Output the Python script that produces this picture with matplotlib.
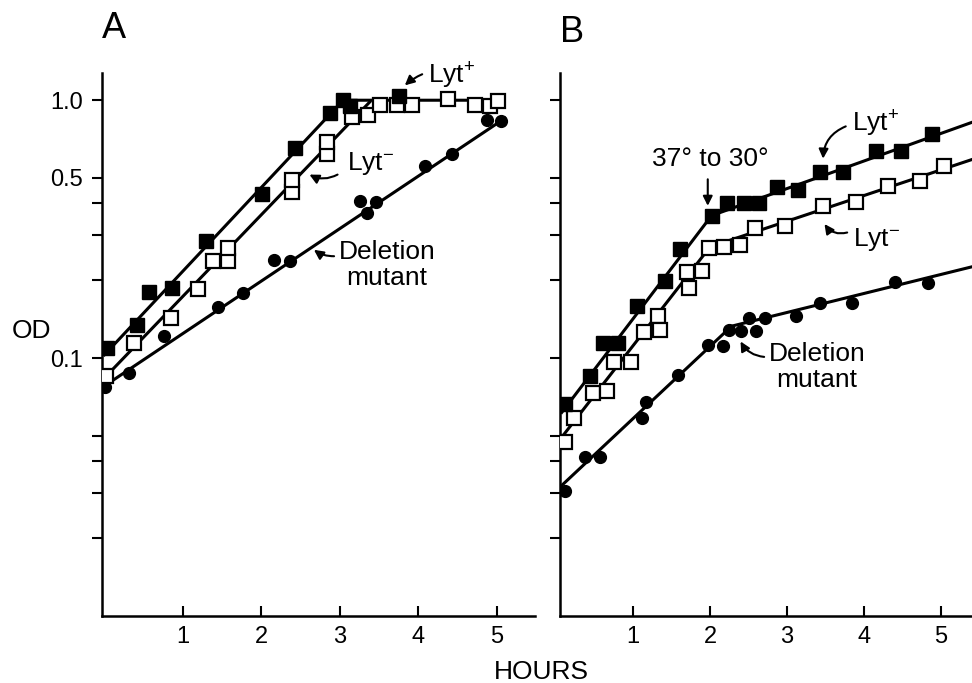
import numpy as np
import matplotlib
matplotlib.use("Agg")
import matplotlib.pyplot as plt

plt.rcParams['font.family'] = ['Liberation Sans', 'DejaVu Sans']
plt.rcParams['mathtext.default'] = 'regular'

# ---- panel A data (hours, OD) ----
a_lytp_x = [0.03, 0.41, 0.57, 0.86, 1.29, 2.01, 2.43, 2.87, 3.04, 3.13, 3.75]
a_lytp_y = [0.109, 0.134, 0.180, 0.187, 0.284, 0.432, 0.652, 0.891, 1.0, 0.948, 1.036]
a_lytm_x = [0.02, 0.38, 0.85, 1.19, 1.38, 1.57, 1.57, 2.39, 2.39, 2.83, 2.83,
            3.15, 3.36, 3.51, 3.73, 3.92, 4.38, 4.72, 4.91, 5.01]
a_lytm_y = [0.085, 0.114, 0.143, 0.185, 0.238, 0.238, 0.267, 0.440, 0.490, 0.618, 0.687,
            0.859, 0.875, 0.956, 0.956, 0.956, 1.01, 0.956, 0.948, 0.99]
a_del_x = [0.01, 0.31, 0.76, 1.45, 1.76, 2.16, 2.36, 3.25, 3.34, 3.46, 4.08, 4.43, 4.87, 5.05]
a_del_y = [0.077, 0.0875, 0.122, 0.158, 0.179, 0.240, 0.237, 0.406, 0.365, 0.402, 0.555,
           0.618, 0.837, 0.829]
# fitted lines (break points)
a_fit_lytp_x = [0.0, 3.04, 5.07]
a_fit_lytp_y = [0.103, 1.0, 1.0]
a_fit_lytm_x = [0.0, 3.38]
a_fit_lytm_y = [0.0838, 0.985]
a_fit_del_x = [0.0, 5.1]
a_fit_del_y = [0.078, 0.851]

# ---- panel B data ----
b_lytp_x = [0.11, 0.44, 0.61, 0.80, 1.05, 1.41, 1.61, 2.02, 2.22, 2.44, 2.64, 2.87,
            3.14, 3.43, 3.73, 4.16, 4.49, 4.89]
b_lytp_y = [0.0662, 0.0851, 0.1144, 0.1144, 0.1594, 0.1993, 0.2655, 0.357, 0.401, 0.401,
            0.401, 0.459, 0.450, 0.529, 0.529, 0.633, 0.633, 0.737]
b_lytm_x = [0.11, 0.23, 0.48, 0.66, 0.75, 0.97, 1.14, 1.32, 1.35, 1.70, 1.89, 1.73,
            1.99, 2.18, 2.39, 2.58, 2.98, 3.47, 3.90, 4.32, 4.73, 5.05]
b_lytm_y = [0.0471, 0.0584, 0.0731, 0.0744, 0.0965, 0.0965, 0.1263, 0.1457, 0.1285,
            0.2161, 0.2181, 0.1872, 0.268, 0.270, 0.275, 0.3205, 0.3264, 0.3904, 0.4045,
            0.467, 0.488, 0.5535]
b_del_x = [0.11, 0.37, 0.57, 1.11, 1.17, 1.58, 1.97, 2.17, 2.25, 2.40, 2.51, 2.60,
           2.71, 3.12, 3.43, 3.85, 4.41, 4.84]
b_del_y = [0.0304, 0.0412, 0.0412, 0.0584, 0.0674, 0.0859, 0.1123, 0.1113, 0.1285,
           0.1274, 0.1431, 0.1274, 0.1431, 0.1457, 0.1637, 0.1637, 0.1975, 0.1957]
b_fit_lytp_x = [0.07, 2.02, 5.41]
b_fit_lytp_y = [0.0616, 0.357, 0.821]
b_fit_lytm_x = [0.07, 2.0, 5.41]
b_fit_lytm_y = [0.0494, 0.270, 0.589]
b_fit_del_x = [0.07, 2.28, 5.41]
b_fit_del_y = [0.0321, 0.133, 0.226]

yticks = [0.02, 0.03, 0.04, 0.05, 0.1, 0.2, 0.3, 0.4, 0.5, 1.0]
ylabels_a = ["", "", "", "", "0.1", "", "", "", "0.5", "1.0"]

fig = plt.figure(figsize=(9.72, 6.83), dpi=100)
axA = fig.add_axes([0.1049, 0.0981, 0.4455, 0.795])
axB = fig.add_axes([0.5761, 0.0981, 0.4239, 0.795])

lw = 2.2
sq = 10.5
ci = 8.5


def draw(ax, fits, pts):
    for fx, fy in fits:
        ax.plot(fx, fy, "k-", lw=lw, zorder=2)
    (px1, py1), (px2, py2), (px3, py3) = pts
    ax.plot(px3, py3, "o", color="k", ms=ci, zorder=3)
    ax.plot(px2, py2, "s", mfc="white", mec="k", mew=1.6, ms=sq, zorder=3)
    ax.plot(px1, py1, "s", color="k", ms=sq, zorder=4)


draw(axA,
     [(a_fit_lytp_x, a_fit_lytp_y), (a_fit_lytm_x, a_fit_lytm_y), (a_fit_del_x, a_fit_del_y)],
     [(a_lytp_x, a_lytp_y), (a_lytm_x, a_lytm_y), (a_del_x, a_del_y)])
draw(axB,
     [(b_fit_lytp_x, b_fit_lytp_y), (b_fit_lytm_x, b_fit_lytm_y), (b_fit_del_x, b_fit_del_y)],
     [(b_lytp_x, b_lytp_y), (b_lytm_x, b_lytm_y), (b_del_x, b_del_y)])

for ax, xl in ((axA, (-0.032, 5.484)), (axB, (0.046, 5.41))):
    ax.set_yscale("log")
    ax.set_ylim(0.01, 1.275)
    ax.set_xlim(*xl)
    ax.spines["top"].set_visible(False)
    ax.spines["right"].set_visible(False)
    ax.spines["left"].set_linewidth(1.8)
    ax.spines["bottom"].set_linewidth(1.8)
    ax.yaxis.set_minor_locator(matplotlib.ticker.NullLocator())
    ax.set_yticks(yticks)
    ax.set_xticks([1, 2, 3, 4, 5])
    ax.set_xticklabels(["1", "2", "3", "4", "5"])
    ax.tick_params(axis="y", direction="out", length=7, width=1.5, labelsize=17, pad=7)
    ax.tick_params(axis="x", direction="in", length=7, width=1.5, labelsize=17, pad=7)

axA.set_yticklabels(ylabels_a)
axB.set_yticklabels([""] * len(yticks))

fs = 19
arr = dict(arrowstyle="-|>", color="k", lw=1.5, mutation_scale=14)

# panel A labels
axA.text(4.12, 1.164, "Lyt$^{+}$", fontsize=fs, ha="left", va="baseline")
axA.annotate("", xy=(3.80, 1.123), xytext=(4.08, 1.273),
             arrowprops=dict(connectionstyle="arc3,rad=0.1", **arr))
axA.text(3.09, 0.535, "Lyt$^{-}$", fontsize=fs, ha="left", va="baseline")
axA.annotate("", xy=(2.58, 0.521), xytext=(3.0, 0.521),
             arrowprops=dict(connectionstyle="arc3,rad=-0.3", **arr))
axA.text(3.60, 0.287, "Deletion\nmutant", fontsize=fs, ha="center", va="top",
         multialignment="center", linespacing=1.1)
axA.annotate("", xy=(2.64, 0.267), xytext=(2.96, 0.2486),
             arrowprops=dict(connectionstyle="arc3,rad=-0.2", **arr))

# panel B labels
axB.text(2.0, 0.558, "37° to 30°", fontsize=fs, ha="center", va="baseline")
axB.annotate("", xy=(1.97, 0.380), xytext=(1.97, 0.506),
             arrowprops=dict(connectionstyle="arc3,rad=0", **arr))
axB.text(3.85, 0.758, "Lyt$^{+}$", fontsize=fs, ha="left", va="baseline")
axB.annotate("", xy=(3.47, 0.579), xytext=(3.80, 0.799),
             arrowprops=dict(connectionstyle="arc3,rad=0.35", **arr))
axB.text(3.86, 0.272, "Lyt$^{-}$", fontsize=fs, ha="left", va="baseline")
axB.annotate("", xy=(3.47, 0.338), xytext=(3.82, 0.309),
             arrowprops=dict(connectionstyle="arc3,rad=-0.4", **arr))
axB.text(3.39, 0.1155, "Deletion\nmutant", fontsize=fs, ha="center", va="top",
         multialignment="center", linespacing=1.1)
axB.annotate("", xy=(2.38, 0.1186), xytext=(2.74, 0.1009),
             arrowprops=dict(connectionstyle="arc3,rad=-0.3", **arr))

fig.text(0.105, 0.944, "A", fontsize=26, ha="left", va="baseline")
fig.text(0.576, 0.938, "B", fontsize=26, ha="left", va="baseline")
fig.text(0.0123, 0.505, "OD", fontsize=19, ha="left", va="baseline")
fig.text(0.557, 0.006, "HOURS", fontsize=19, ha="center", va="baseline")

fig.savefig("out.png", dpi=100)
